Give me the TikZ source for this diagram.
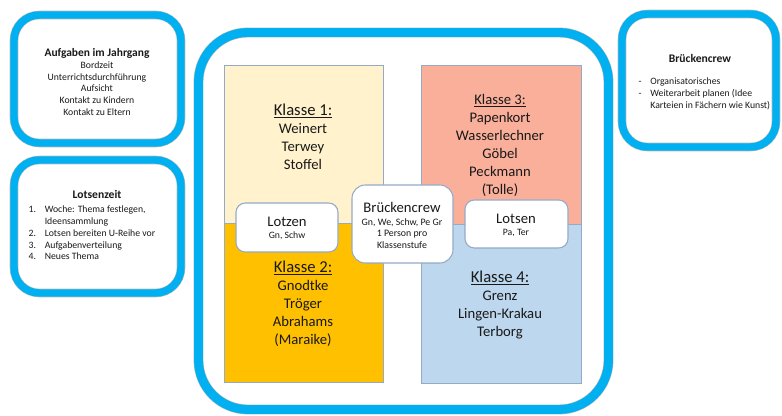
\documentclass[tikz,border=0pt]{standalone}
\usepackage{fontspec}
\setmainfont{Carlito}
\usepackage{tikz}
\definecolor{crewblue}{RGB}{0,176,240}
\definecolor{kleins}{RGB}{255,242,204}
\definecolor{klzwei}{RGB}{255,192,0}
\definecolor{kldrei}{RGB}{250,175,155}
\definecolor{klvier}{RGB}{189,215,238}
\definecolor{klrand}{RGB}{150,170,198}
\definecolor{textgrau}{RGB}{25,25,25}

\begin{document}
\begin{tikzpicture}[x=0.75pt,y=-0.75pt,
	crewframe/.style={draw=gray!55, line width=0.4pt, double=crewblue, double distance=5.6pt, fill=white, rounded corners=19pt},
	klassebox/.style={draw=klrand, line width=0.6pt},
	lotsbox/.style={draw=klrand, line width=0.8pt, fill=white, rounded corners=7pt},
	gross/.style={font=\fontsize{11}{13.5}\selectfont, text=textgrau, align=center},
	klein/.style={font=\fontsize{7.3}{8.8}\selectfont, text=textgrau}]
			\useasboundingbox (0,0) rectangle (782,416);
			% linke und rechte Infokaesten
			\filldraw [crewframe] (14,15) rectangle (181,143);
			\filldraw [crewframe] (14,160) rectangle (181,293);
			\filldraw [crewframe] (622,14) rectangle (776,147);
			\filldraw [crewframe, double distance=6.6pt, rounded corners=37pt] (198.5,32.5) rectangle (608.5,409.5);
			\filldraw [klassebox, fill=kleins] (224,65) rectangle (383,223);
			\filldraw [klassebox, fill=klzwei] (224,223) rectangle (383,382);
			\filldraw [klassebox, fill=kldrei] (421,65) rectangle (581,224);
			\filldraw [klassebox, fill=klvier] (421,224) rectangle (581,383);
			\filldraw [lotsbox] (236,203) rectangle (338,252);
			\filldraw [lotsbox, rounded corners=10pt] (352,185) rectangle (453,263);
			\filldraw [lotsbox] (465,200) rectangle (568,248);
			\node (aufg) at (97,82) [klein, align=center] {{\fontsize{8.6}{10}\selectfont\bfseries Aufgaben im Jahrgang}\\Bordzeit\\Unterrichtsdurchführung\\Aufsicht\\Kontakt zu Kindern\\Kontakt zu Eltern};
			\node (lotszeit) at (97,194) [klein, font=\fontsize{8.7}{10}\selectfont\bfseries] {Lotsenzeit};
			\node (lotsliste) at (24,234) [klein, anchor=west] {\begin{tabular}{@{}l@{\hspace{6.5pt}}l@{}}
				1. & Woche: Thema festlegen,\\
				 & Ideensammlung\\
				2. & Lotsen bereiten U-Reihe vor\\
				3. & Aufgabenverteilung\\
				4. & Neues Thema
			\end{tabular}};
			\node (crewtitel) at (700,58) [klein, font=\fontsize{8.7}{10}\selectfont\bfseries] {Brückencrew};
			\node (crewliste) at (634,94) [klein, anchor=west, font=\fontsize{7.3}{9}\selectfont] {\begin{tabular}{@{}l@{\hspace{6.5pt}}l@{}}
				- & Organisatorisches\\
				- & Weiterarbeit planen (Idee\\
				 & Karteien in Fächern wie Kunst)
			\end{tabular}};
			\node (k1) at (303,137) [gross] {{\fontsize{12.5}{13.5}\selectfont\underline{Klasse 1:}}\\Weinert\\Terwey\\Stoffel};
			\node (k2) at (303,304) [gross] {{\fontsize{12.5}{13.5}\selectfont\underline{Klasse 2:}}\\Gnodtke\\Tröger\\Abrahams\\(Maraike)};
			\node (k3) at (500,145.5) [gross] {\underline{Klasse 3:}\\Papenkort\\Wasserlechner\\Göbel\\Peckmann\\(Tolle)};
			\node (k4) at (500,305) [gross] {{\fontsize{12.5}{13.5}\selectfont\underline{Klasse 4:}}\\Grenz\\Lingen-Krakau\\Terborg};
			\node (lotzen) at (287,222) [gross] {Lotzen};
			\node (lotzenwer) at (287,236) [klein] {Gn, Schw};
			\node (lotsen) at (516,219) [gross] {Lotsen};
			\node (lotsenwer) at (516,233) [klein] {Pa, Ter};
			\node (bruecke) at (402,207) [gross] {Brückencrew};
			\node (brueckewer) at (402,233.5) [klein, align=center, font=\fontsize{7.4}{8.6}\selectfont] {Gn, We, Schw, Pe Gr\\1 Person pro\\Klassenstufe};
			\end{tikzpicture}
\end{document}
